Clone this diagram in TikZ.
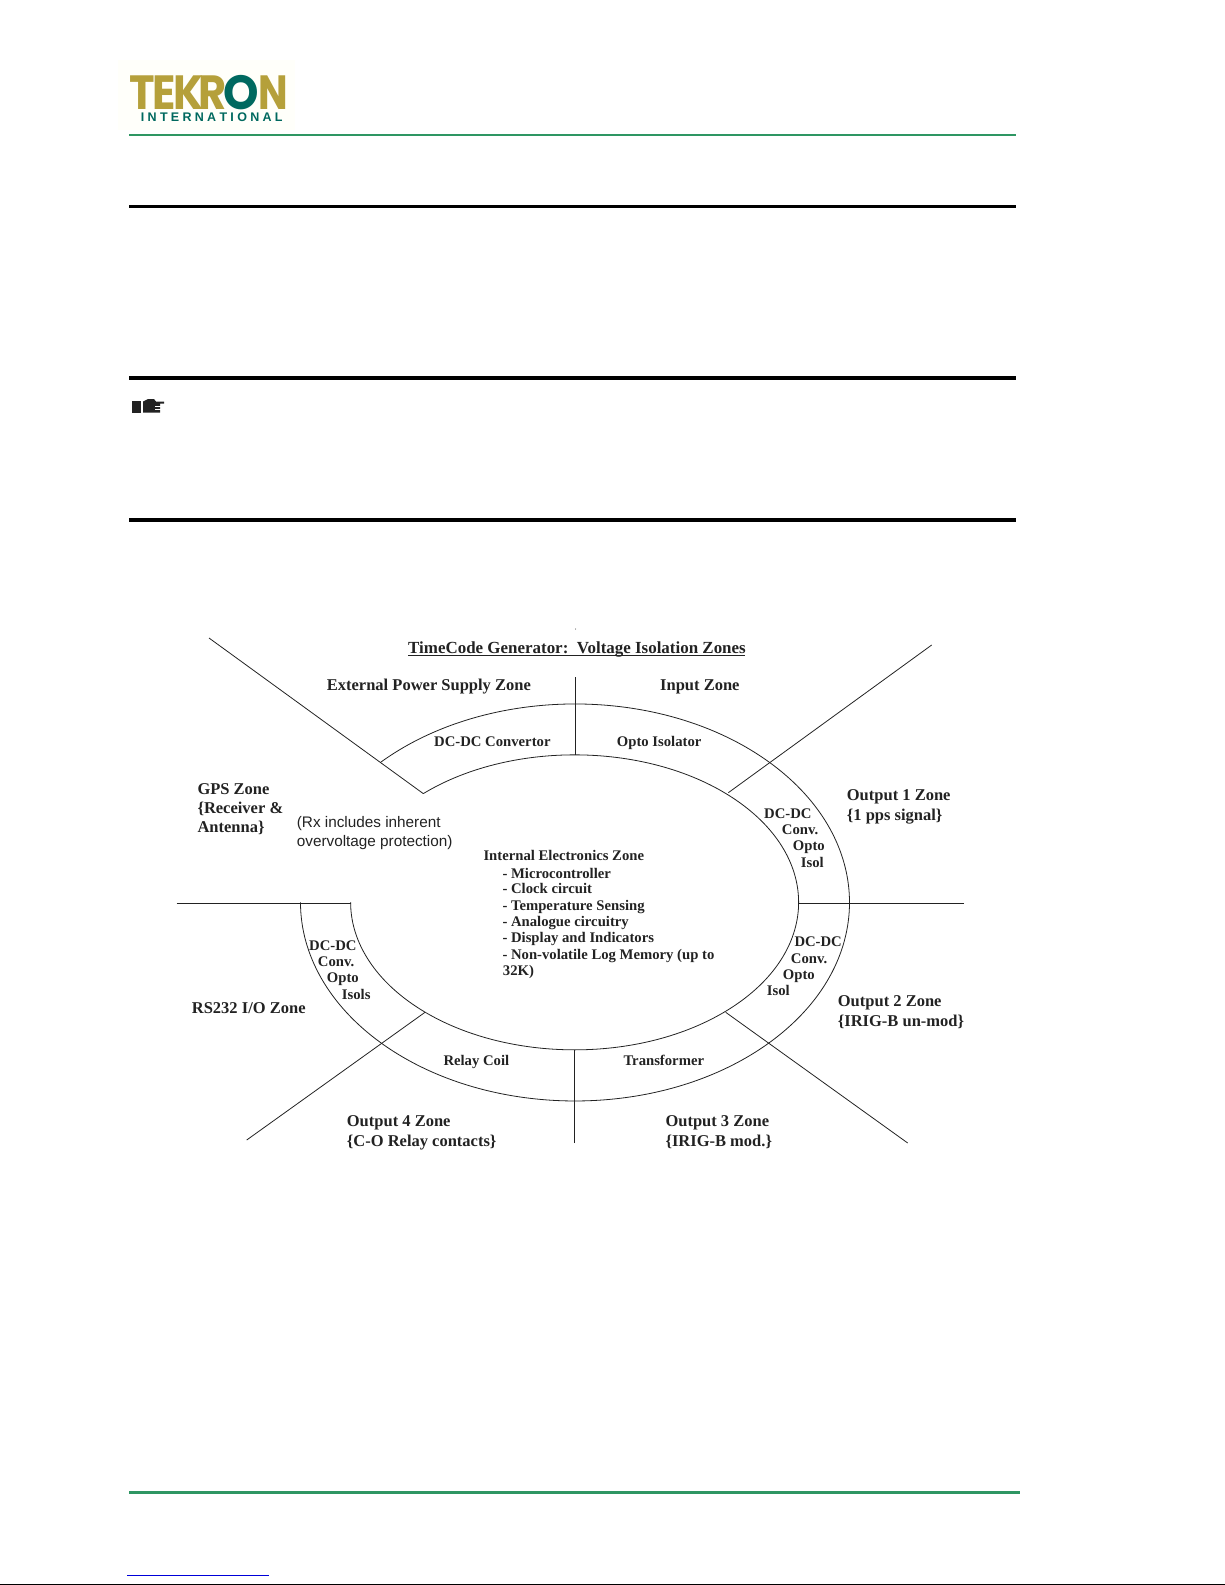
\documentclass[tikz,border=0pt]{standalone}
\usepackage{fontspec}
\setmainfont{Liberation Serif}
\newfontfamily\logofont{Poppins}[Scale=1.0]
\newfontfamily\tagfont{Liberation Sans}
\definecolor{logogold}{HTML}{B5A03A}
\definecolor{logoteal}{HTML}{00695F}
\definecolor{logocream}{HTML}{FFFFFA}
\definecolor{rulegreen}{HTML}{2E9663}
\definecolor{inkgrey}{HTML}{222222}
\begin{document}
\begin{tikzpicture}[
		x=1pt, y=-1pt,
		zonelabel/.style={anchor=base west, inner sep=0pt, text=inkgrey, font=\fontsize{16.5}{18}\selectfont\bfseries},
		partlabel/.style={anchor=base west, inner sep=0pt, text=inkgrey, font=\fontsize{14.7}{16}\selectfont\bfseries},
		zoneline/.style={draw=inkgrey, line width=0.8pt},
		pagerule/.style={line width=#1, draw=black},
	]

	\useasboundingbox (0, 0) rectangle (1225, 1585);

	% Page head
	\fill[logocream] (118, 60) rectangle (295, 130);
	\node[anchor=base west, inner sep=0pt, text depth=0pt, text height=34pt] (logoword) at (129, 109.3) {\fontsize{48}{48}\logofont\bfseries
		\scalebox{0.90}[1]{\textcolor{logogold}{T\kern-2.5pt E\kern-3pt K\kern-5pt R}}\kern-3pt%
		\scalebox{0.94}[1]{\textcolor{logoteal}{O}}\kern-1pt%
		\scalebox{0.82}[1]{\textcolor{logogold}{N}}};
	\node[anchor=base west, inner sep=0pt, text depth=0pt, text height=9pt, text=logoteal] (logotag) at (140.7, 121.7) {\fontsize{12.5}{13}\tagfont\bfseries I\kern3.3pt N\kern3.3pt T\kern3.3pt E\kern3.3pt R\kern3.3pt N\kern3.3pt A\kern3.3pt T\kern3.3pt I\kern3.3pt O\kern3.3pt N\kern3.3pt A\kern3.3pt L};
	\draw[rulegreen, line width=2pt] (129, 134.5) -- (1016, 134.5);

	% Black rules
	\draw[pagerule=3pt] (129, 206) -- (1016, 206);
	\draw[pagerule=4pt] (129, 378) -- (1016, 378);
	\draw[pagerule=3.5pt] (129, 520) -- (1016, 520);

	% Pointing hand
	\fill[inkgrey] (131.7, 400.7) rectangle (140.7, 412.7);
	\fill[inkgrey] (143, 401.5) -- (148, 399) -- (154, 399) -- (156, 401.5) -- (164, 401.5) -- (164, 403.5) -- (160, 403.5)
		-- (160, 412.7) -- (143, 412.7) -- cycle;
	\draw[white, line width=0.7pt] (155, 406) -- (161, 406);
	\draw[white, line width=0.7pt] (155, 409.3) -- (161, 409.3);

	% Title
	\node[zonelabel, font=\fontsize{16.95}{19}\selectfont\bfseries] (title) at (408, 653) {TimeCode Generator:\ \ Voltage Isolation Zones};
	\draw[inkgrey, line width=1.2pt] (title.base west) ++(0, 2.4) -- ++(337, 0);
	\fill[inkgrey] (575.7, 629) circle (0.5pt);

	% Ring
	\coordinate (outerstart) at (380.9, 762.1);
	\coordinate (innerstart) at (423.3, 793.6);
	\draw[zoneline] (outerstart) arc[start angle=-135, end angle=180, x radius=274.5, y radius=198.5];
	\draw[zoneline] (innerstart) arc[start angle=-132.5, end angle=180, x radius=224, y radius=147.5];

	% Zone ends
	\coordinate (gpstop) at (209, 638);
	\coordinate (inputtop) at (931.7, 645);
	\coordinate (inputin) at (728.3, 792.7);
	\coordinate (powertop) at (575, 677);
	\coordinate (powerin) at (575, 755);
	\coordinate (out1out) at (964, 903.5);
	\coordinate (out1in) at (799.3, 903.5);
	\coordinate (rsout) at (176.7, 903.5);
	\coordinate (rsin) at (351.3, 903.5);
	\coordinate (out4out) at (246.7, 1140);
	\coordinate (out4in) at (425, 1012.3);
	\coordinate (out3out) at (907.7, 1143);
	\coordinate (out3in) at (725.7, 1012.3);
	\coordinate (coilout) at (574.4, 1143);
	\coordinate (coilin) at (574.4, 1050);

	% Zone lines
	\draw[zoneline] (gpstop) -- (innerstart);
	\draw[zoneline] (powertop) -- (powerin);
	\draw[zoneline] (inputtop) -- (inputin);
	\draw[zoneline] (out1out) -- (out1in);
	\draw[zoneline] (rsout) -- (rsin);
	\draw[zoneline] (out4out) -- (out4in);
	\draw[zoneline] (out3out) -- (out3in);
	\draw[zoneline] (coilout) -- (coilin);

	% Top zones
	\node[zonelabel] (power) at (326.7, 690.7) {External Power Supply Zone};
	\node[zonelabel] (input) at (660, 690.7) {Input Zone};
	\node[partlabel] (convertor) at (434, 746) {DC-DC Convertor};
	\node[partlabel] (isolator) at (616.7, 746) {Opto Isolator};

	% GPS
	\node[zonelabel] (gps) at (197.3, 794) {GPS Zone};
	\node[zonelabel] (gpsb) at (197.3, 813.3) {\{Receiver \&};
	\node[zonelabel] (gpsc) at (197.3, 832.7) {Antenna\}};
	\node[zonelabel, font=\fontsize{15.3}{17}\selectfont\tagfont] (rxa) at (296.7, 827.3) {(Rx includes inherent};
	\node[zonelabel, font=\fontsize{15.3}{17}\selectfont\tagfont] (rxb) at (296.7, 846.7) {overvoltage protection)};

	% Internal zone
	\node[partlabel] (internal) at (483.3, 860) {Internal Electronics Zone};
	\node[partlabel] (micro) at (502.3, 878.7) {- Microcontroller};
	\node[partlabel] (clock) at (502.3, 893.6) {- Clock circuit};
	\node[partlabel] (temp) at (502.3, 910) {- Temperature Sensing};
	\node[partlabel] (analogue) at (502.3, 926) {- Analogue circuitry};
	\node[partlabel] (display) at (502.3, 942.3) {- Display and Indicators};
	\node[partlabel] (logmem) at (502.3, 959.3) {- Non-volatile Log Memory (up to};
	\node[partlabel] (logsize) at (502.7, 975.7) {32K)};

	% Output 1
	\node[zonelabel] (outa) at (846.7, 800) {Output 1 Zone};
	\node[zonelabel] (outab) at (846.7, 820) {\{1 pps signal\}};
	\node[partlabel] (dca) at (764, 818.3) {DC-DC};
	\node[partlabel] (cona) at (781.7, 834) {Conv.};
	\node[partlabel] (opa) at (792.7, 850.7) {Opto};
	\node[partlabel] (isa) at (800.7, 867.3) {Isol};

	% Output 2
	\node[zonelabel] (outb) at (837.7, 1006.7) {Output 2 Zone};
	\node[zonelabel] (outbb) at (837.7, 1026.7) {\{IRIG-B un-mod\}};
	\node[partlabel] (dcb) at (794.3, 946.7) {DC-DC};
	\node[partlabel] (conb) at (790.7, 963.3) {Conv.};
	\node[partlabel] (opb) at (782.7, 979) {Opto};
	\node[partlabel] (isb) at (766.7, 995.7) {Isol};

	% Output 3 and 4
	\node[partlabel] (transformer) at (623.3, 1065) {Transformer};
	\node[partlabel] (coil) at (443.3, 1065) {Relay Coil};
	\node[zonelabel] (outc) at (665.3, 1126) {Output 3 Zone};
	\node[zonelabel] (outcb) at (665.3, 1146) {\{IRIG-B mod.\}};
	\node[zonelabel] (outd) at (346.7, 1126) {Output 4 Zone};
	\node[zonelabel] (outdb) at (346.7, 1146) {\{C-O Relay contacts\}};

	% RS232
	\node[zonelabel] (rs) at (191.7, 1013.3) {RS232 I/O Zone};
	\node[partlabel] (dcr) at (309, 950) {DC-DC};
	\node[partlabel] (conr) at (317.7, 966) {Conv.};
	\node[partlabel] (opr) at (326.7, 982.3) {Opto};
	\node[partlabel] (isr) at (341.7, 999) {Isols};

	% Page foot
	\draw[rulegreen, line width=3pt] (129, 1492.5) -- (1020, 1492.5);
	\draw[blue!85!black, line width=1.2pt] (127.3, 1575.5) -- (269, 1575.5);
	\draw[black, line width=1.5pt] (0, 1584.5) -- (1225, 1584.5);

\end{tikzpicture}
\end{document}
